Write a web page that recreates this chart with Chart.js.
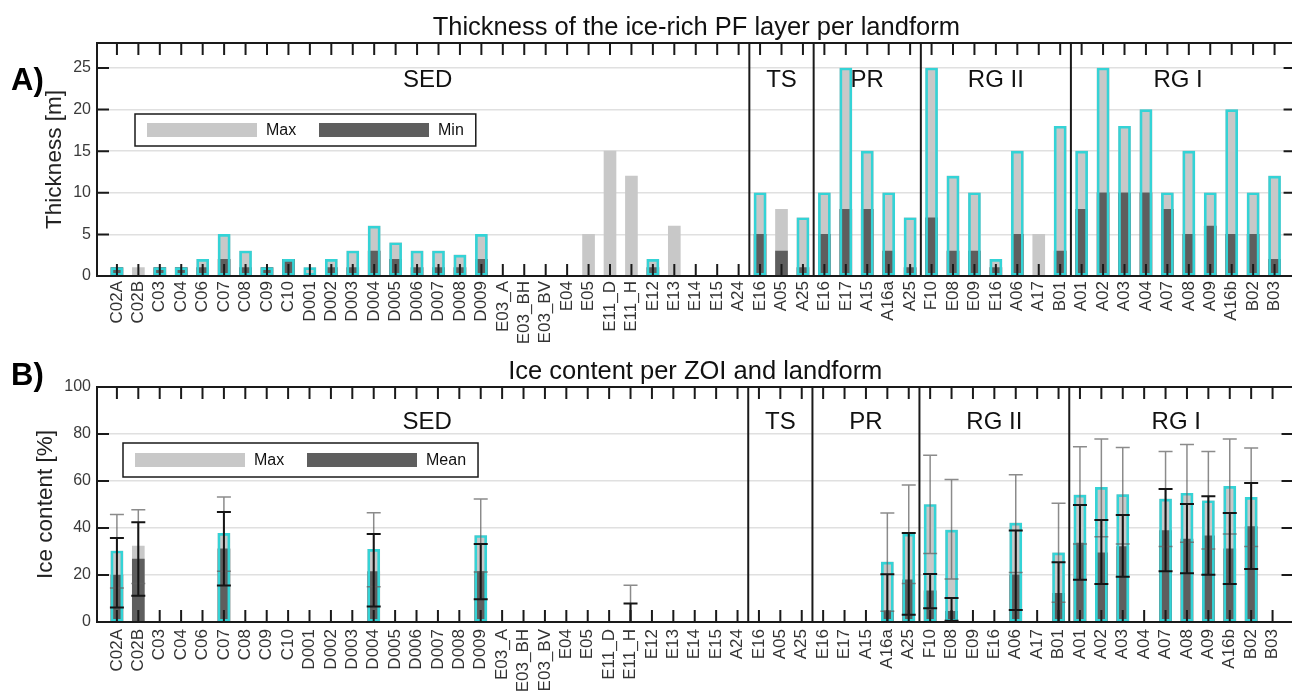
<!DOCTYPE html>
<html lang="en">
<head>
    <meta charset="UTF-8">
    <title>Ice-rich PF layer and ice content per landform</title>
    <script src="https://cdn.jsdelivr.net/npm/chart.js"></script>
    <style>
        * { margin: 0; padding: 0; box-sizing: border-box; }
        html, body { width: 1292px; height: 696px; overflow: hidden; background: #fff; }
        canvas { position: absolute; left: 0; }
        #thickChart { top: 0; }
        #iceChart { top: 350px; }
    </style>
</head>
<body>
    <canvas id="thickChart" width="1300" height="350"></canvas>
    <canvas id="iceChart" width="1300" height="346"></canvas>

    <script>
        const N = null;

        // ZOIs along the x axis, grouped by landform
        const zoiLabels = [
            'C02A', 'C02B', 'C03', 'C04', 'C06', 'C07', 'C08', 'C09', 'C10', 'D001',
            'D002', 'D003', 'D004', 'D005', 'D006', 'D007', 'D008', 'D009', 'E03_A', 'E03_BH',
            'E03_BV', 'E04', 'E05', 'E11_D', 'E11_H', 'E12', 'E13', 'E14', 'E15', 'A24',
            'E16', 'A05', 'A25',
            'E16', 'E17', 'A15', 'A16a', 'A25',
            'F10', 'E08', 'E09', 'E16', 'A06', 'A17', 'B01',
            'A01', 'A02', 'A03', 'A04', 'A07', 'A08', 'A09', 'A16b', 'B02', 'B03'
        ];
        const groupNames = ['SED', 'TS', 'PR', 'RG II', 'RG I'];
        const groupSizes = [30, 3, 5, 7, 10];

        // A) thickness of the ice-rich PF layer [m]
        const thickMax = [
            1, 1, 1, 1, 2, 5, 3, 1, 2, 1, 2, 3, 6, 4, 3, 3, 2.5, 5, N, N, N, N, 5, 15, 12, 2, 6, N, N, N,
            10, 8, 7,
            10, 25, 15, 10, 7,
            25, 12, 10, 2, 15, 5, 18,
            15, 25, 18, 20, 10, 15, 10, 20, 10, 12
        ];
        const thickMin = [
            1, N, 1, 1, 1, 2, 1, 1, 2, N, 1, 1, 3, 2, 1, 1, 1, 2, N, N, N, N, N, N, N, 1, N, N, N, N,
            5, 3, 1,
            5, 8, 8, 3, 1,
            7, 3, 3, 1, 5, N, 3,
            8, 10, 10, 10, 8, 5, 6, 5, 5, 2
        ];
        const thickOutlined = [
            1, 0, 1, 1, 1, 1, 1, 1, 1, 1, 1, 1, 1, 1, 1, 1, 1, 1, 0, 0, 0, 0, 0, 0, 0, 1, 0, 0, 0, 0,
            1, 0, 1,
            1, 1, 1, 1, 1,
            1, 1, 1, 1, 1, 0, 1,
            1, 1, 1, 1, 1, 1, 1, 1, 1, 1
        ];
        const thickTicks = [0, 5, 10, 15, 20, 25];

        // B) ice content per ZOI [%]
        const iceMax = [
            30.2, 32.3, N, N, N, 37.7, N, N, N, N, N, N, 30.9, N, N, N, N, 36.8, N, N, N, N, N, N, N, N, N, N, N, N,
            N, N, N,
            N, N, N, 25.5, 37.4,
            50, 39.1, N, N, 42.1, N, 29.4,
            54, 57.3, 54.2, N, 52.3, 54.8, 51.6, 57.7, 53, N
        ];
        const iceMean = [
            20, 26.8, N, N, N, 31.1, N, N, N, N, N, N, 21.5, N, N, N, N, 21.5, N, N, N, N, N, N, N, N, N, N, N, N,
            N, N, N,
            N, N, N, 4.8, 17.9,
            13.3, 4.5, N, N, 20.1, N, 12.2,
            33.6, 29.4, 32.1, N, 38.9, 35.3, 36.7, 31.1, 40.6, N
        ];
        // whiskers of the max (grey) and of the mean (black)
        const iceMaxLow = [
            14.5, 16.4, N, N, N, 21.6, N, N, N, N, N, N, 15, N, N, N, N, 21.3, N, N, N, N, N, N, 0, N, N, N, N, N,
            N, N, N,
            N, N, N, 4.6, 16.4,
            29.2, 18.3, N, N, 21.1, N, 8.4,
            33.2, 36.3, 33.2, N, 32.1, 33.9, 31.1, 37.4, 32.1, N
        ];
        const iceMaxHigh = [
            45.7, 47.8, N, N, N, 53.2, N, N, N, N, N, N, 46.5, N, N, N, N, 52.3, N, N, N, N, N, N, 15.6, N, N, N, N, N,
            N, N, N,
            N, N, N, 46.4, 58.3,
            71, 60.6, N, N, 62.7, N, 50.5,
            74.6, 77.9, 74.3, N, 72.6, 75.5, 72.6, 77.9, 74, N
        ];
        const iceMeanLow = [
            6.2, 11.2, N, N, N, 15.5, N, N, N, N, N, N, 6.6, N, N, N, N, 9.7, N, N, N, N, N, N, 0, N, N, N, N, N,
            N, 0, N,
            N, N, N, -10.7, 3.1,
            5.8, 0.5, N, N, 5.1, N, -1,
            18, 16.2, 19.3, N, 21.6, 20.7, 20.1, 16.2, 22.6, N
        ];
        const iceMeanHigh = [
            35.7, 42.5, N, N, N, 46.8, N, N, N, N, N, N, 37.4, N, N, N, N, 33.2, N, N, N, N, N, N, 7.9, N, N, N, N, N,
            N, 0, N,
            N, N, N, 20.3, 37.9,
            20.4, 10.2, N, N, 38.9, N, 25.4,
            49.8, 43.4, 45.5, N, 56.6, 50.2, 53.5, 46.4, 59.1, N
        ];
        const iceOutlined = [
            1, 0, 0, 0, 0, 1, 0, 0, 0, 0, 0, 0, 1, 0, 0, 0, 0, 1, 0, 0, 0, 0, 0, 0, 0, 0, 0, 0, 0, 0,
            0, 0, 0,
            0, 0, 0, 1, 1,
            1, 1, 0, 0, 1, 0, 1,
            1, 1, 1, 0, 1, 1, 1, 1, 1, 0
        ];
        const iceTicks = [0, 20, 40, 60, 80, 100];

        const LIGHT = '#c8c8c8';
        const DARK = '#5e5e5e';
        const CYAN = '#34d3d6';
        const FONT = "'Liberation Sans', Arial, sans-serif";

        Chart.defaults.font.family = FONT;

        function barPoints(values, flags) {
            return values
                .map((v, i) => ({ x: i + 1, y: (flags && !flags[i]) ? null : v }))
                .filter(p => p.y !== null);
        }

        // MATLAB-like frame: inward ticks, box, landform separators, legend, titles, error bars
        const framePlugin = {
            id: 'frame',
            afterDatasetsDraw(chart, args, opts) {
                const { ctx, chartArea: a, scales: { x, y } } = chart;
                ctx.save();

                if (opts.errorBars) {
                    ctx.save();
                    ctx.beginPath();
                    ctx.rect(a.left, a.top, a.right - a.left, a.bottom - a.top);
                    ctx.clip();
                    opts.errorBars.forEach(eb => {
                        ctx.strokeStyle = eb.color;
                        ctx.lineWidth = eb.width;
                        eb.low.forEach((lo, i) => {
                            if (lo === null) return;
                            const px = x.getPixelForValue(i + 1);
                            const p1 = y.getPixelForValue(lo);
                            const p2 = y.getPixelForValue(eb.high[i]);
                            ctx.beginPath();
                            ctx.moveTo(px, p1); ctx.lineTo(px, p2);
                            ctx.moveTo(px - eb.cap, p1); ctx.lineTo(px + eb.cap, p1);
                            ctx.moveTo(px - eb.cap, p2); ctx.lineTo(px + eb.cap, p2);
                            ctx.stroke();
                        });
                    });
                    ctx.restore();
                }

                // inward tick marks
                ctx.strokeStyle = '#1a1a1a';
                ctx.lineWidth = 2;
                ctx.beginPath();
                x.ticks.forEach(t => {
                    const px = x.getPixelForValue(t.value);
                    ctx.moveTo(px, a.bottom); ctx.lineTo(px, a.bottom - 12);
                    ctx.moveTo(px, a.top); ctx.lineTo(px, a.top + 12);
                });
                y.ticks.forEach(t => {
                    const py = y.getPixelForValue(t.value);
                    ctx.moveTo(a.left, py); ctx.lineTo(a.left + 12, py);
                    ctx.moveTo(a.right, py); ctx.lineTo(a.right - 12, py);
                });
                ctx.stroke();

                // box
                ctx.strokeRect(a.left, a.top, a.right - a.left, a.bottom - a.top);

                // landform separators and names
                let start = 0;
                ctx.fillStyle = '#111';
                ctx.font = '24px ' + FONT;
                ctx.textAlign = 'center';
                ctx.textBaseline = 'alphabetic';
                groupSizes.forEach((size, g) => {
                    const mid = x.getPixelForValue(start + (size + 1) / 2);
                    ctx.fillText(groupNames[g], mid, a.top + opts.groupDrop);
                    start += size;
                    if (g < groupSizes.length - 1) {
                        const sx = x.getPixelForValue(start + 0.5);
                        ctx.beginPath();
                        ctx.moveTo(sx, a.top); ctx.lineTo(sx, a.bottom);
                        ctx.stroke();
                    }
                });

                // legend
                const lg = opts.legend;
                const lx = a.left + lg.dx, ly = a.top + lg.dy;
                ctx.font = '16px ' + FONT;
                ctx.textAlign = 'left';
                ctx.textBaseline = 'middle';
                const ds = chart.data.datasets;
                const lastText = lx + 12 + 172 + 119;
                const boxW = lastText + ctx.measureText(ds[1].label).width + 12 - lx;
                ctx.fillStyle = '#fff';
                ctx.fillRect(lx, ly, boxW, lg.h);
                ctx.lineWidth = 1.5;
                ctx.strokeRect(lx, ly, boxW, lg.h);
                [ds[0], ds[1]].forEach((d, k) => {
                    const sx = lx + 12 + k * 172;
                    ctx.fillStyle = d.backgroundColor;
                    ctx.fillRect(sx, ly + lg.h / 2 - 7, 110, 14);
                    ctx.fillStyle = '#111';
                    ctx.fillText(d.label, sx + 119, ly + lg.h / 2 + 1);
                });

                // panel title and letter
                ctx.textAlign = 'center';
                ctx.textBaseline = 'alphabetic';
                ctx.font = '25.5px ' + FONT;
                ctx.fillText(opts.title, (a.left + a.right) / 2, opts.titleBaseline);
                ctx.textAlign = 'left';
                ctx.font = 'bold 31px ' + FONT;
                ctx.fillStyle = '#000';
                ctx.fillText(opts.letter, 11, opts.letterBaseline);

                ctx.restore();
            }
        };

        function xAxis(labelPad) {
            return {
                type: 'linear',
                min: 0.07,
                max: 55.98,
                offset: false,
                grid: { display: false, drawTicks: false },
                border: { display: false },
                afterBuildTicks: s => { s.ticks = zoiLabels.map((_, i) => ({ value: i + 1 })); },
                afterFit: s => { s.height = 74; },
                ticks: {
                    autoSkip: false,
                    minRotation: 90,
                    maxRotation: 90,
                    padding: labelPad,
                    color: '#333',
                    font: { size: 17 },
                    callback: v => zoiLabels[v - 1]
                }
            };
        }

        function yAxis(max, tickValues, title, titlePad) {
            return {
                type: 'linear',
                min: 0,
                max: max,
                grid: { color: '#e0e0e0', lineWidth: 1.5, drawTicks: false },
                border: { display: false },
                afterBuildTicks: s => { s.ticks = tickValues.map(v => ({ value: v })); },
                afterFit: s => { s.width = 97; },
                ticks: { padding: 6, color: '#3a3a3a', font: { size: 16 } },
                title: {
                    display: true,
                    text: title,
                    color: '#222',
                    font: { size: 22.5 },
                    padding: { top: titlePad, bottom: 0 }
                }
            };
        }

        const thickChart = new Chart(document.getElementById('thickChart'), {
            type: 'bar',
            data: {
                datasets: [
                    { label: 'Max', data: barPoints(thickMax), backgroundColor: LIGHT, barThickness: 12, grouped: false, order: 3 },
                    { label: 'Min', data: barPoints(thickMin), backgroundColor: DARK, barThickness: 12, grouped: false, order: 2 },
                    {
                        label: 'outline', data: barPoints(thickMax, thickOutlined),
                        backgroundColor: 'rgba(0,0,0,0)', borderColor: CYAN, borderWidth: 2,
                        borderSkipped: false, barThickness: 12, grouped: false, order: 1
                    }
                ]
            },
            options: {
                responsive: false,
                animation: false,
                layout: { padding: { top: 43, left: 0, right: 2, bottom: 0 } },
                scales: {
                    x: xAxis(5),
                    y: yAxis(28, thickTicks, 'Thickness [m]', 41)
                },
                plugins: {
                    legend: { display: false },
                    tooltip: { enabled: false },
                    frame: {
                        title: 'Thickness of the ice-rich PF layer per landform',
                        titleBaseline: 35,
                        letter: 'A)',
                        letterBaseline: 90,
                        groupDrop: 44,
                        legend: { dx: 38, dy: 71, h: 32 }
                    }
                }
            },
            plugins: [framePlugin]
        });

        const iceChart = new Chart(document.getElementById('iceChart'), {
            type: 'bar',
            data: {
                datasets: [
                    { label: 'Max', data: barPoints(iceMax), backgroundColor: LIGHT, barThickness: 12, grouped: false, order: 3 },
                    { label: 'Mean', data: barPoints(iceMean), backgroundColor: DARK, barThickness: 12, grouped: false, order: 2 },
                    {
                        label: 'outline', data: barPoints(iceMax, iceOutlined),
                        backgroundColor: 'rgba(0,0,0,0)', borderColor: CYAN, borderWidth: 2,
                        borderSkipped: false, barThickness: 12, grouped: false, order: 1
                    }
                ]
            },
            options: {
                responsive: false,
                animation: false,
                layout: { padding: { top: 37, left: 0, right: 2, bottom: 0 } },
                scales: {
                    x: xAxis(7),
                    y: yAxis(100, iceTicks, 'Ice content [%]', 32)
                },
                plugins: {
                    legend: { display: false },
                    tooltip: { enabled: false },
                    frame: {
                        title: 'Ice content per ZOI and landform',
                        titleBaseline: 29,
                        letter: 'B)',
                        letterBaseline: 35,
                        groupDrop: 42,
                        legend: { dx: 26, dy: 56, h: 34 },
                        errorBars: [
                            { low: iceMaxLow, high: iceMaxHigh, color: 'rgba(100,100,100,0.75)', width: 1.5, cap: 7 },
                            { low: iceMeanLow, high: iceMeanHigh, color: '#151515', width: 2, cap: 7 }
                        ]
                    }
                }
            },
            plugins: [framePlugin]
        });
    </script>
</body>
</html>
